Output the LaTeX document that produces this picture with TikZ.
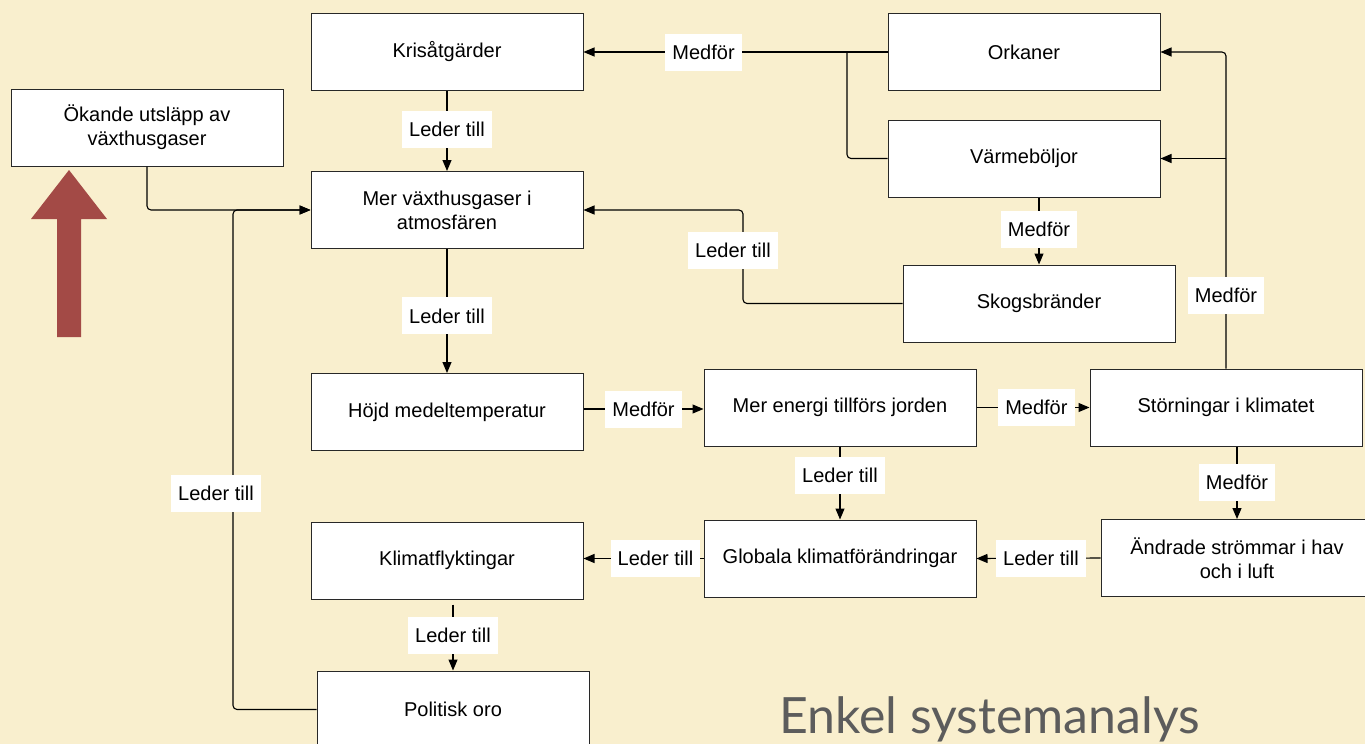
\documentclass[tikz,border=0pt]{standalone}
\usepackage{fontspec}
\setmainfont{Liberation Sans}
\newfontfamily\titlefont{Lato}
\usetikzlibrary{arrows.meta,calc}
\definecolor{paper}{RGB}{249,239,206}
\definecolor{bigred}{RGB}{163,74,70}
\definecolor{edgegray}{RGB}{40,40,40}
\definecolor{titlegray}{RGB}{92,92,92}
\tikzset{
  box/.style={draw=edgegray, line width=1pt, fill=white, minimum width=272pt, minimum height=77pt,
    inner sep=0pt, align=center, font=\fontsize{20}{24}\selectfont, sharp corners},
  lbl/.style={fill=white, sharp corners, inner xsep=7pt, inner ysep=0pt, minimum height=37pt, font=\fontsize{20}{24}\selectfont},
  conn/.style={line width=1.1pt, draw=black, rounded corners=4pt},
  arr/.style={conn, -{Triangle[length=11pt,width=9pt]}}
}
\begin{document}
\begin{tikzpicture}[x=1pt,y=-1pt]
\path[fill=paper] (0,0) rectangle (1365,744);
\useasboundingbox (0,0) rectangle (1365,744);

% boxes
\node[box] (kris) at (447,52) {Krisåtgärder};
\node[box] (okande) at (147,127.5) {Ökande utsläpp av\\växthusgaser};
\node[box] (mer) at (447,210) {Mer växthusgaser i\\atmosfären};
\node[box] (hojd) at (447,412) {Höjd medeltemperatur};
\node[box] (energi) at (840,407.5) {Mer energi tillförs jorden};
\node[box] (stor) at (1226,407.5) {Störningar i klimatet};
\node[box] (orkan) at (1024,52) {Orkaner};
\node[box] (varme) at (1024,158.5) {Värmeböljor};
\node[box] (skog) at (1039,303.5) {Skogsbränder};
\node[box] (klimat) at (447,560.5) {Klimatflyktingar};
\node[box] (glob) at (840,558.5) {Globala klimatförändringar};
\node[box] (andr) at (1237,558) {Ändrade strömmar i hav\\och i luft};
\node[box] (pol) at (453,709.5) {Politisk oro};

\coordinate (jk) at (847,52);
\coordinate (js) at (1226,158.5);

% connectors
\draw[arr] (orkan.west) -- node[lbl,pos=0.605]{Medför} (kris.east);
\draw[conn] (varme.west) -| (jk);
\draw[arr] (stor.north) -- node[lbl,pos=0.23]{Medför} (stor.north |- orkan.east) -- (orkan.east);
\draw[arr] (js) -- (varme.east);
\draw[arr] (skog.north |- varme.south) -- node[lbl,pos=0.48]{Medför} (skog.north);
\draw[arr] (skog.west) -- (743,303.5) -- node[lbl,pos=0.57,xshift=-10pt]{Leder till} (743,210) -- (mer.east);
\draw[arr] (kris.south) -- node[lbl,pos=0.48]{Leder till} (mer.north);
\draw[arr] (okande.south) |- (mer.west);
\draw[arr] (pol.west) -- (233,709.5) -- node[lbl,pos=0.432,xshift=-17pt]{Leder till} (233,210) -- (mer.west);
\draw[arr] (mer.south) -- node[lbl,pos=0.54]{Leder till} (hojd.north);
\draw[arr] (hojd.east |- 0,409) -- node[lbl,pos=0.5]{Medför} (energi.west |- 0,409);
\draw[arr] (energi.east) -- node[lbl,pos=0.53]{Medför} (stor.west);
\draw[arr] (energi.south) -- node[lbl,pos=0.4]{Leder till} (glob.north);
\draw[arr] (andr.north |- stor.south) -- node[lbl,pos=0.49]{Medför} (andr.north);
\draw[arr] (andr.west) -- node[lbl,pos=0.48]{Leder till} (glob.east);
\draw[arr] (glob.west) -- node[lbl,pos=0.4]{Leder till} (klimat.east |- glob.west);
\draw[arr, shorten <=5pt] (pol.north |- klimat.south) -- node[lbl,pos=0.5]{Leder till} (pol.north);

% big red arrow
\fill[bigred] (57,337) -- (81,337) -- (81,219) -- (107,219) -- (69,170) -- (31,219) -- (57,219) -- cycle;

% title
\node[anchor=base west, inner sep=0pt, text=titlegray, font=\titlefont\fontsize{50}{58}\selectfont] (title) at (779,733) {Enkel systemanalys};
\end{tikzpicture}
\end{document}
